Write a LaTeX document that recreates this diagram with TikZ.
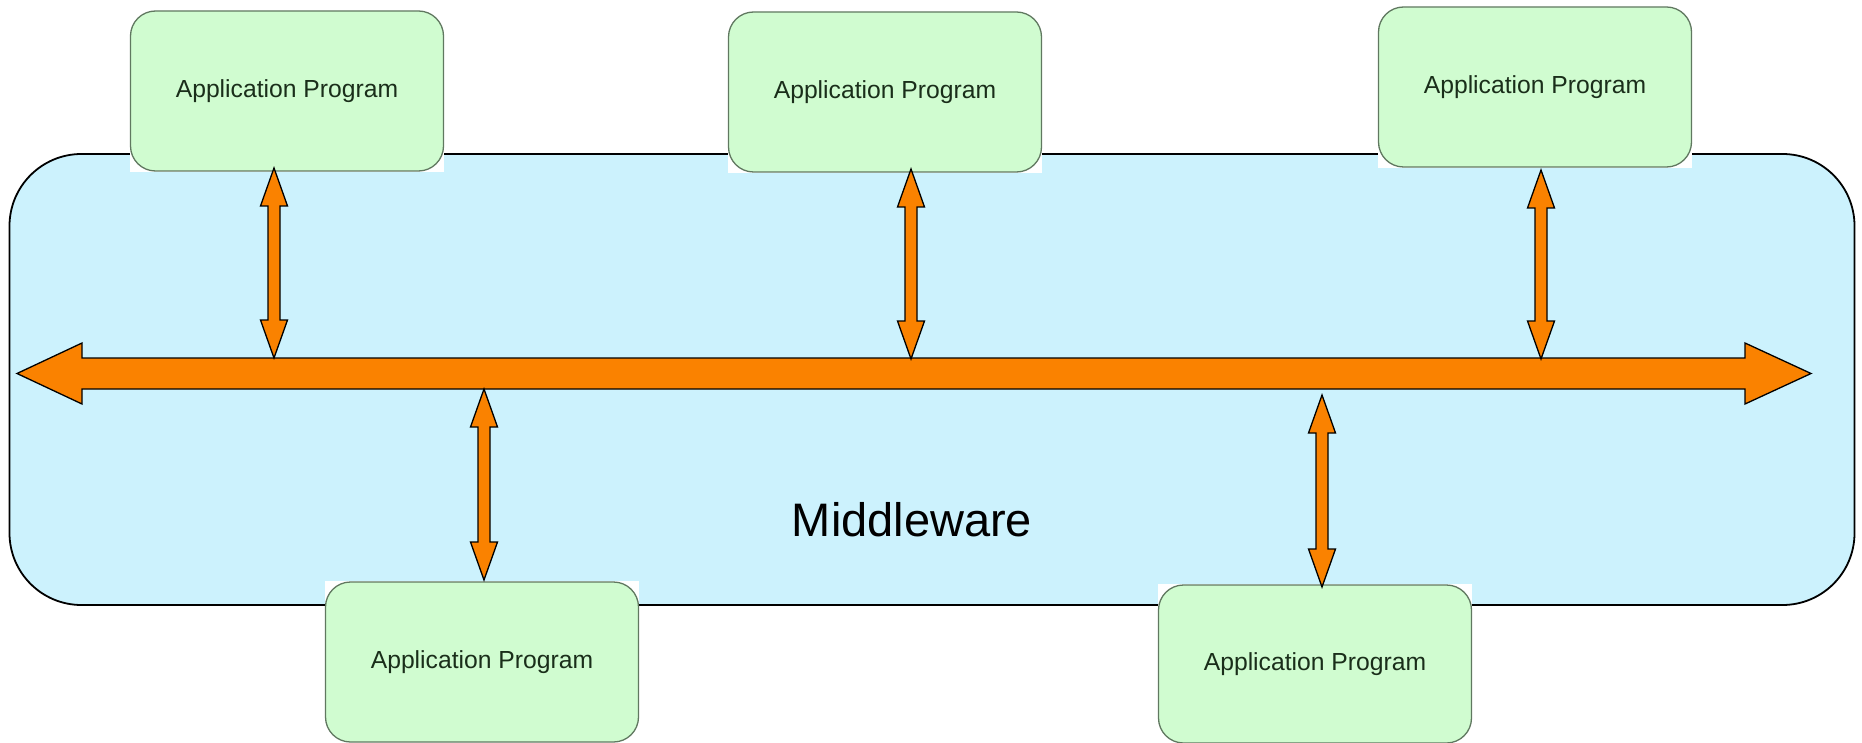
\documentclass[tikz,border=0pt]{standalone}
\usepackage{fontspec}
\setmainfont{Liberation Sans}
\definecolor{mwfill}{RGB}{204,242,253}
\definecolor{appfill}{RGB}{208,252,208}
\definecolor{appdraw}{RGB}{96,120,96}
\definecolor{apptext}{RGB}{26,46,26}
\definecolor{busorange}{RGB}{250,130,0}
\tikzset{
  mwbox/.style={draw=black, line width=1.8pt, fill=mwfill, rounded corners=72pt, minimum width=1845pt, minimum height=451pt, inner sep=0pt},
  appbox/.style={draw=appdraw, line width=1.3pt, fill=appfill, rounded corners=25pt, minimum width=313pt, minimum height=160pt, inner sep=0pt, text=apptext, font=\fontsize{24.7}{29}\selectfont},
  mwlabel/.style={font=\fontsize{47}{56}\selectfont, text=black, inner sep=0pt},
  blockarrow/.style={draw=black, line width=1.3pt, fill=busorange, line join=miter}
}
% double-headed vertical block arrow: x, top y, bottom y
\newcommand\vdarrow[3]{%
  \filldraw[blockarrow] (#1,#2) -- (#1-13.5,#2+38) -- (#1-6,#2+38) -- (#1-6,#3-38) -- (#1-13.5,#3-38) -- (#1,#3) -- (#1+13.5,#3-38) -- (#1+6,#3-38) -- (#1+6,#2+38) -- (#1+13.5,#2+38) -- cycle;}
\newcommand\appprog[4]{%
  \fill[white] (#2-157,#3-#4/2-1) rectangle (#2+157,#3+#4/2+1);
  \node[appbox, minimum height=#4pt] (#1) at (#2,#3) {Application Program};}
\begin{document}
\begin{tikzpicture}[x=1pt,y=-1pt]
\useasboundingbox (0,0) rectangle (1862,743);
\fill[white] (0,0) rectangle (1862,743);
% middleware
\node[mwbox] (mw) at (932,379.5) {};
\node[mwlabel] (mwtext) at (912,520) {Middleware};
% bus
\coordinate (busL) at (17,373.5);
\coordinate (busR) at (1811,373.5);
\filldraw[blockarrow] (busL) -- (82,343) -- (82,358) -- (1745,358) -- (1745,343) -- (busR) -- (1745,404) -- (1745,389) -- (82,389) -- (82,404) -- cycle;
% application programs
\appprog{tl}{287}{91}{160}
\appprog{tm}{885}{92}{160}
\appprog{tr}{1535}{87}{160}
\appprog{bl}{482}{662}{160}
\appprog{br}{1315}{664}{158}
% connectors
\vdarrow{274}{168}{358}
\vdarrow{911}{169}{359}
\vdarrow{1541}{170}{359}
\vdarrow{484}{389}{580}
\vdarrow{1322}{395}{587}
\end{tikzpicture}
\end{document}
